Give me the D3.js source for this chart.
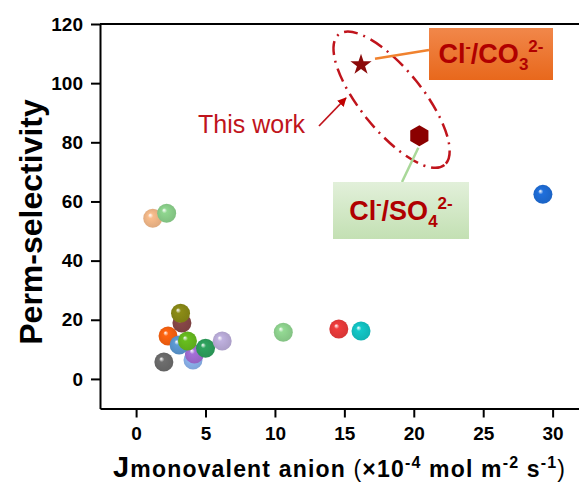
<!DOCTYPE html>
<html>
<head>
<script src="https://d3js.org/d3.v7.min.js"></script>
<style>
  body { margin: 0; background: #fff; }
  text { font-family: Arial, "Liberation Sans", sans-serif; }
</style>
</head>
<body>
<div id="chart"></div>
<script>
// literature membranes: flux (x10^-4 mol m^-2 s^-1) vs perm-selectivity
const litFlux = [1.2, 2.2, 29.3, 2.0, 4.1, 4.2, 2.3, 3.1, 3.3, 3.2, 3.7, 5.0, 6.2, 10.6, 14.6, 16.2];
const litSel  = [54.3, 56.0, 62.4, 5.7, 6.4, 8.4, 14.5, 11.5, 18.9, 22.2, 12.8, 10.4, 12.8, 15.8, 16.9, 16.2];
const litColors = ["#f9bd8c", "#8fd68f", "#1f6fdc", "#6e6e6e", "#8fb8f2", "#a56fd8", "#ff6410", "#5d9bd6",
                   "#8a4848", "#8c8c16", "#68be1e", "#2ea35e", "#bfb1df", "#93d993", "#f03c3c", "#12c9c9"];

// this work
const workLabels = ["Cl-/CO3 2-", "Cl-/SO4 2-"];
const workFlux = [16.2, 20.4];
const workSel  = [106.2, 82.2];

const xTicks = [0, 5, 10, 15, 20, 25, 30];
const yTicks = [0, 20, 40, 60, 80, 100, 120];

const W = 579, H = 488;
const svg = d3.select("#chart").append("svg")
  .attr("width", W).attr("height", H);

const x = d3.scaleLinear().domain([-2.6, 31.9]).range([100, 579]);
const y = d3.scaleLinear().domain([-10, 120]).range([408.5, 24]);

const defs = svg.append("defs");
litColors.forEach(function(c, i) {
  const g = defs.append("radialGradient")
    .attr("id", "ball" + i)
    .attr("cx", "50%").attr("cy", "50%").attr("r", "55%")
    .attr("fx", "35%").attr("fy", "32%");
  g.append("stop").attr("offset", "0%").attr("stop-color", "#ffffff").attr("stop-opacity", 0.9);
  g.append("stop").attr("offset", "25%").attr("stop-color", c);
  g.append("stop").attr("offset", "100%").attr("stop-color", d3.color(c).darker(0.35));
});
const og = defs.append("linearGradient").attr("id", "orangeBox").attr("x1", 0).attr("y1", 0).attr("x2", 0).attr("y2", 1);
og.append("stop").attr("offset", "0%").attr("stop-color", "#f1874a");
og.append("stop").attr("offset", "100%").attr("stop-color", "#e8681c");
const gg = defs.append("linearGradient").attr("id", "greenBox").attr("x1", 0).attr("y1", 0).attr("x2", 0).attr("y2", 1);
gg.append("stop").attr("offset", "0%").attr("stop-color", "#e2f0da");
gg.append("stop").attr("offset", "100%").attr("stop-color", "#c3e0b3");
defs.append("marker").attr("id", "arrow")
  .attr("viewBox", "0 0 10 10").attr("refX", 9).attr("refY", 5)
  .attr("markerWidth", 5).attr("markerHeight", 5).attr("orient", "auto")
  .append("path").attr("d", "M0,0L10,5L0,10z").attr("fill", "#c00000");

// axes
const xAxis = svg.append("g")
  .attr("transform", "translate(0," + y(-10) + ")")
  .call(d3.axisBottom(x).tickValues(xTicks).tickSize(9).tickPadding(9).tickSizeOuter(0));
const yAxis = svg.append("g")
  .attr("transform", "translate(" + x(-2.6) + ",0)")
  .call(d3.axisLeft(y).tickValues(yTicks).tickSize(9).tickPadding(8).tickSizeOuter(0));
[xAxis, yAxis].forEach(function(a) {
  a.select(".domain").attr("stroke", "#000").attr("stroke-width", 2);
  a.selectAll(".tick line").attr("stroke", "#000").attr("stroke-width", 2);
  a.selectAll(".tick text").attr("fill", "#000")
    .style("font-size", "19px").style("font-weight", "bold")
    .style("font-family", "Arial, 'Liberation Sans', sans-serif");
});
// top frame line
svg.append("line")
  .attr("x1", x(-2.6)).attr("x2", W).attr("y1", y(120)).attr("y2", y(120))
  .attr("stroke", "#000").attr("stroke-width", 2);

// axis titles
svg.append("text")
  .attr("transform", "translate(42," + 222 + ") rotate(-90)")
  .attr("text-anchor", "middle")
  .style("font-size", "32px").style("font-weight", "bold")
  .text("Perm-selectivity");

const xl = svg.append("text").attr("x", 113).attr("y", 477)
  .attr("textLength", 452).attr("lengthAdjust", "spacing")
  .style("font-weight", "bold").style("font-size", "23px");
xl.append("tspan").style("font-size", "29px").text("J");
xl.append("tspan").text("monovalent anion ");
xl.append("tspan").style("font-weight", "normal").text("(");
xl.append("tspan").text("×10");
xl.append("tspan").attr("dy", -9).style("font-size", "16px").text("-4");
xl.append("tspan").attr("dy", 9).text(" mol m");
xl.append("tspan").attr("dy", -9).style("font-size", "16px").text("-2");
xl.append("tspan").attr("dy", 9).text(" s");
xl.append("tspan").attr("dy", -9).style("font-size", "16px").text("-1");
xl.append("tspan").attr("dy", 9).style("font-weight", "normal").text(")");

// literature spheres
const order = d3.range(litFlux.length);
svg.append("g").selectAll("circle").data(order).join("circle")
  .attr("cx", function(i) { return x(litFlux[i]); })
  .attr("cy", function(i) { return y(litSel[i]); })
  .attr("r", 9.5)
  .attr("fill", function(i) { return "url(#ball" + i + ")"; });

// ellipse around this work
const ec = [18.4, 94.4];
svg.append("ellipse")
  .attr("transform", "translate(" + x(ec[0]) + "," + y(ec[1]) + ") rotate(51)")
  .attr("rx", 84).attr("ry", 31)
  .attr("fill", "none").attr("stroke", "#c0141c").attr("stroke-width", 2.5)
  .attr("stroke-dasharray", "14,6,2,6");

// connectors
svg.append("line")
  .attr("x1", x(workFlux[0]) + 14).attr("y1", y(workSel[0]) - 6)
  .attr("x2", 429).attr("y2", 50)
  .attr("stroke", "#f0822f").attr("stroke-width", 2.5);
svg.append("line")
  .attr("x1", x(workFlux[1]) - 1).attr("y1", y(workSel[1]) + 12)
  .attr("x2", 402).attr("y2", 182)
  .attr("stroke", "#a9d899").attr("stroke-width", 2.5);

// this work markers
svg.append("path")
  .attr("transform", "translate(" + x(workFlux[0]) + "," + y(workSel[0]) + ")")
  .attr("d", d3.symbol(d3.symbolStar, 140)())
  .attr("fill", "#8b0a0a");
const hex = d3.range(6).map(function(k) {
  const a = Math.PI / 6 + k * Math.PI / 3;
  return [10.5 * Math.cos(a), 10.5 * Math.sin(a)];
});
svg.append("path")
  .attr("transform", "translate(" + x(workFlux[1]) + "," + y(workSel[1]) + ")")
  .attr("d", d3.line()(hex) + "Z")
  .attr("fill", "#8b0000");

// "This work" label + arrow
svg.append("text").attr("x", 198).attr("y", 133)
  .attr("fill", "#c0141c").style("font-size", "25px")
  .text("This work");
svg.append("line")
  .attr("x1", 319).attr("y1", 126).attr("x2", 346).attr("y2", 98)
  .attr("stroke", "#c0141c").attr("stroke-width", 1.8)
  .attr("marker-end", "url(#arrow)");

// label boxes
function ionLabel(bx, by, bw, bh, fill, anion, sub) {
  svg.append("rect").attr("x", bx).attr("y", by).attr("width", bw).attr("height", bh)
    .attr("fill", fill);
  const t = svg.append("text").attr("x", bx + bw / 2).attr("y", by + bh / 2 + 9)
    .attr("text-anchor", "middle").attr("fill", "#b00000")
    .style("font-size", "27px").style("font-weight", "bold");
  t.append("tspan").text("Cl");
  t.append("tspan").attr("dy", -11).style("font-size", "16px").text("-");
  t.append("tspan").attr("dy", 11).text("/" + anion);
  t.append("tspan").attr("dy", 7).style("font-size", "17px").text(sub);
  t.append("tspan").attr("dy", -18).style("font-size", "17px").text("2-");
}
ionLabel(429, 28, 124, 52, "url(#orangeBox)", "CO", "3");
ionLabel(333, 182, 136, 57, "url(#greenBox)", "SO", "4");
</script>
</body>
</html>
